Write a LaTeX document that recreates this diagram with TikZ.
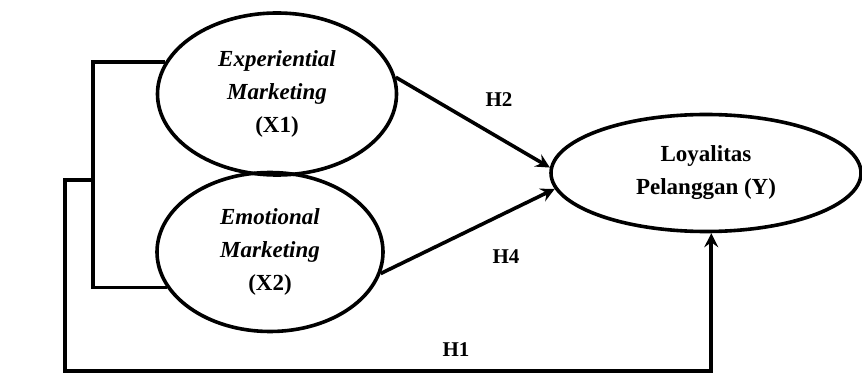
\documentclass[tikz,border=0pt]{standalone}
\usepackage{fontspec}
\setmainfont{Liberation Serif}
\usetikzlibrary{shapes.geometric,arrows.meta}
\tikzstyle{construct} = [draw, ellipse, inner sep=0pt, align=center, font=\fontsize{23}{33}\selectfont\bfseries]
\tikzstyle{hyp} = [font=\fontsize{21}{25}\selectfont\bfseries]
\tikzstyle{joint} = [coordinate]

\begin{document}
\begin{tikzpicture}[x=1pt, y=1pt, line width=3.6pt, >={Stealth[length=14pt,width=14pt,inset=5pt]}]
    \useasboundingbox (0,0) rectangle (862,-374);
    % Define the nodes
    \node [construct, minimum width=239pt, minimum height=162pt] (x1) at (277,-94) {\textit{Experiential}\\\textit{Marketing}\\(X1)};
    \node [construct, minimum width=226pt, minimum height=159pt] (x2) at (270,-252) {\textit{Emotional}\\\textit{Marketing}\\(X2)};
    \node [construct, minimum width=310pt, minimum height=117pt] (y) at (706,-173) {Loyalitas\\Pelanggan (Y)};
    \node [joint] (brk) at (93,-180) {};
    \node [joint] (corner) at (65,-371) {};
    \node [hyp] (h2) at (499,-100) {H2};
    \node [hyp] (h4) at (506,-257) {H4};
    \node [hyp] (h1) at (456,-350) {H1};
    % Connect the nodes
    \draw (x1.164) -| (brk) |- (x2.199);
    \draw [->] (brk) -| (corner) -| (y.-85);
    \draw [->] (x1.8) -- (y.178);
    \draw [->] (x2.-11) -- (y.186);
\end{tikzpicture}
\end{document}
